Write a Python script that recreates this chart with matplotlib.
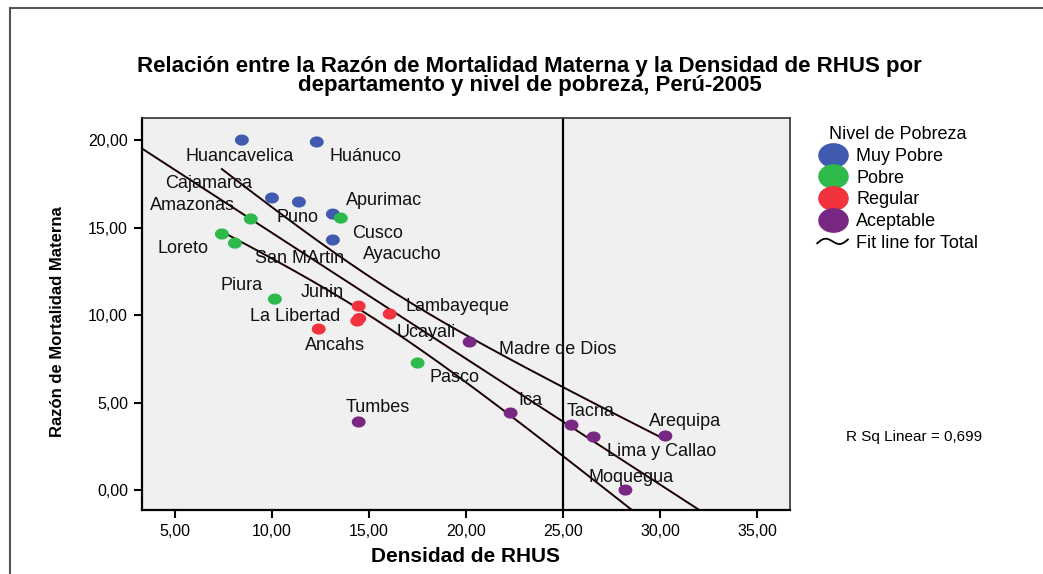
import numpy as np
import matplotlib
matplotlib.use('Agg')
import matplotlib.pyplot as plt
from matplotlib.lines import Line2D
from matplotlib.legend_handler import HandlerBase
from matplotlib.path import Path
from matplotlib import font_manager

########################################################################################
# Datos
departamentos = ['Huancavelica', 'Huánuco', 'Cajamarca', 'Puno', 'Apurimac', 'Ayacucho',
                 'Amazonas', 'Cusco', 'Loreto', 'San MArtin', 'Piura', 'Pasco',
                 'Junin', 'Lambayeque', 'La Libertad', 'Ucayali', 'Ancahs',
                 'Madre de Dios', 'Tumbes', 'Ica', 'Tacna', 'Lima y Callao', 'Arequipa', 'Moquegua']
rhus = [8.45, 12.31, 10.0, 11.39, 13.14, 13.14,
        8.91, 13.55, 7.42, 8.09, 10.15, 17.51,
        14.47, 16.07, 14.40, 14.50, 12.41,
        20.19, 14.47, 22.30, 25.44, 26.58, 30.28, 28.22]
rmm = [20.0, 19.89, 16.69, 16.46, 15.77, 14.29,
       15.49, 15.54, 14.63, 14.11, 10.91, 7.26,
       10.51, 10.06, 9.66, 9.80, 9.20,
       8.46, 3.89, 4.40, 3.71, 3.03, 3.09, 0.0]
nivel = ['Muy Pobre'] * 6 + ['Pobre'] * 6 + ['Regular'] * 5 + ['Aceptable'] * 7
niveles = ['Muy Pobre', 'Pobre', 'Regular', 'Aceptable']
xticks = [5, 10, 15, 20, 25, 30, 35]
yticks = [0, 5, 10, 15, 20]
linea_ref = 25
########################################################################################

colores = {'Muy Pobre': '#3F5AAF', 'Pobre': '#2EB94B', 'Regular': '#F0333C', 'Aceptable': '#782882'}
# desplazamiento de etiquetas en pixeles
offsets = [(-2, -16), (49, -15), (-63, 14), (-1, -15), (51, 14), (69, -15),
           (-58, 13), (37, -15), (-39, -14), (65, -15), (-33, 14), (37, -14),
           (-36, 14), (68, 8), (-62, 5), (67, -14), (16, -16),
           (88, -7), (19, 14), (20, 13), (19, 14), (68, -14), (20, 14), (6, 13)]

plt.rcParams['font.family'] = 'Liberation Sans'
nombres = {f.name for f in font_manager.fontManager.ttflist}
fuente_y = 'Liberation Sans Narrow' if 'Liberation Sans Narrow' in nombres else 'Liberation Sans'


class HandlerCurva(HandlerBase):
    def create_artists(self, legend, orig_handle, xdescent, ydescent, width, height, fontsize, trans):
        t = np.linspace(0, 1, 40)
        xs = -xdescent + t * width
        ys = -ydescent + height / 2 - 0.28 * height * np.sin(2 * np.pi * t + np.pi) - 0.15 * height * (1 - 2 * t)
        l = Line2D(xs, ys, color='black', lw=1.3, transform=trans)
        return [l]


x = np.array(rhus)
y = np.array(rmm)

fig = plt.figure(figsize=(10.43, 5.74), dpi=100)
ax = fig.add_axes([0.1361, 0.1115, 0.6213, 0.6829])
ax.set_facecolor('#F0F0F0')
xlim = (3.3, 36.7)
ax.set_xlim(*xlim)
ax.set_ylim(-1.14, 21.26)

# recta de ajuste e intervalo de confianza de la media (90%)
b, a = np.polyfit(x, y, 1)
n = len(x)
res = y - (a + b * x)
s = np.sqrt(np.sum(res ** 2) / (n - 2))
sxx = np.sum((x - x.mean()) ** 2)
t_val = 1.717
xf = np.linspace(xlim[0], xlim[1], 200)
ax.plot(xf, a + b * xf, color='#1a0000', lw=1.4, zorder=2)
xb = np.linspace(x.min(), x.max(), 200)
semi = t_val * s * np.sqrt(1.0 / n + (xb - x.mean()) ** 2 / sxx)
ax.plot(xb, a + b * xb + semi, color='#1a0000', lw=1.4, zorder=2)
ax.plot(xb, a + b * xb - semi, color='#1a0000', lw=1.4, zorder=2)

ax.axvline(linea_ref, color='black', lw=1.6, zorder=2)

th = np.linspace(0, 2 * np.pi, 60)
elipse = Path(np.column_stack([np.cos(th), 0.8 * np.sin(th)]))
for i in range(n):
    c = colores[nivel[i]]
    ax.scatter(x[i], y[i], s=100, marker=elipse, color=c, edgecolors='none', zorder=3)
    ax.annotate(departamentos[i], (x[i], y[i]), xytext=offsets[i], textcoords='offset pixels',
                ha='center', va='center', fontsize=13, color='#111111', zorder=4)

ax.set_xticks(xticks)
ax.set_xticklabels([('%.2f' % v).replace('.', ',') for v in xticks], fontsize=11.5)
ax.set_yticks(yticks)
ax.set_yticklabels([('%.2f' % v).replace('.', ',') for v in yticks], fontsize=11.5)
ax.tick_params(direction='out', length=6, width=1.5, pad=4)
for lado in ['left', 'bottom']:
    ax.spines[lado].set_linewidth(1.6)
for lado in ['top', 'right']:
    ax.spines[lado].set_linewidth(1.2)
    ax.spines[lado].set_color('#333333')

ax.set_xlabel('Densidad de RHUS', fontsize=15, fontweight='bold', labelpad=6)
fig.text(58 / 1043, 1 - 322 / 574, 'Razón de Mortalidad Materna', rotation=90, ha='center', va='center',
         fontsize=13.5 if fuente_y != 'Liberation Sans' else 12, fontweight='bold', family=fuente_y)

fig.text(0.508, 1 - 76 / 574, 'Relación entre la Razón de Mortalidad Materna y la Densidad de RHUS por\n'
         'departamento y nivel de pobreza, Perú-2005', ha='center', va='center',
         fontsize=16, fontweight='bold', linespacing=0.88)

handles = [Line2D([], [], marker=elipse, ls='', markerfacecolor=colores[k], markeredgecolor=colores[k],
                  markersize=21) for k in niveles]
handles.append(Line2D([], [], color='black'))
etiquetas = niveles + ['Fit line for Total']
fig.legend(handles, etiquetas, title='Nivel de Pobreza', loc='upper left',
           bbox_to_anchor=(810 / 1043, 1 - 119 / 574), frameon=False, fontsize=13, title_fontsize=13,
           handlelength=1.7, handletextpad=0.45, labelspacing=0.26, borderaxespad=0,
           handler_map={handles[-1]: HandlerCurva()})

fig.text(914 / 1043, 1 - 437 / 574, 'R Sq Linear = 0,699', ha='center', va='center', fontsize=11)

# marco exterior
fig.add_artist(Line2D([10 / 1043, 1], [1 - 8 / 574, 1 - 8 / 574], transform=fig.transFigure, color='#555555', lw=1.5))
fig.add_artist(Line2D([10 / 1043, 10 / 1043], [0, 1 - 8 / 574], transform=fig.transFigure, color='#555555', lw=1.5))

fig.savefig('out.png', dpi=100)
